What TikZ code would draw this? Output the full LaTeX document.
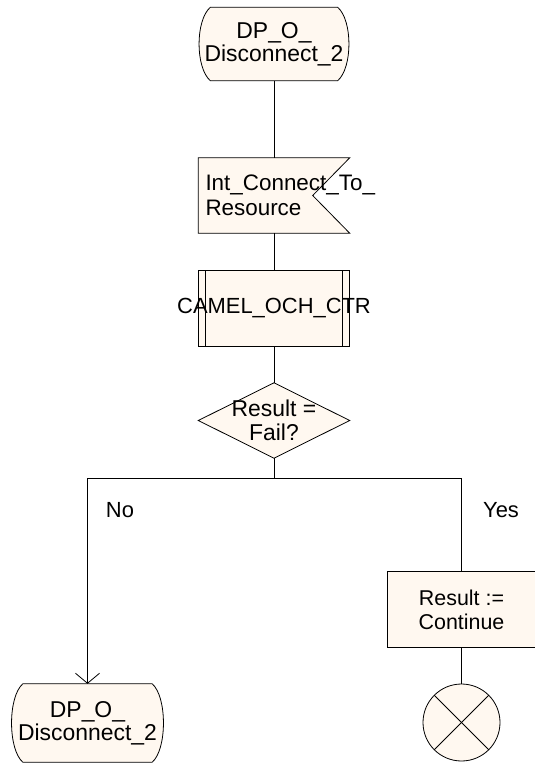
\documentclass[tikz,border=0pt]{standalone}
\usepackage{fontspec}
\setmainfont{Liberation Sans}
\usetikzlibrary{arrows.meta,backgrounds,calc}
\definecolor{sdlfill}{RGB}{255,248,240}
\begin{document}
\begin{tikzpicture}[x=1bp,y=-1bp,
  every node/.style={font=\fontsize{22}{24}\selectfont, inner sep=0pt},
  bigtext/.style={font=\fontsize{23}{23.5}\selectfont},
  line/.style={draw=black, line width=0.8bp},
  shapefill/.style={line, fill=sdlfill},
  boxnode/.style={minimum width=150bp, minimum height=75bp}]
\useasboundingbox (0,0) rectangle (535,765);

% nodes
\node[bigtext, minimum width=149bp, minimum height=73bp, align=center] (t1) at (274,44) {DP\_O\_\\Disconnect\_2};
\node[boxnode, minimum width=151bp, text width=137bp, align=left, font=\fontsize{22.5}{25}\selectfont] (inp) at (274,195.5) {Int\_Connect\_To\_\\Resource};
\node[boxnode] (proc) at (274,308.5) {\makebox[0pt]{CAMEL\_OCH\_CTR}};
\node[boxnode, bigtext, minimum width=151bp, align=center] (dec) at (274,420.5) {Result =\\Fail?};
\node[boxnode, minimum width=148bp, align=center, font=\fontsize{21.5}{24}\selectfont] (res) at (461.5,609.5) {Result :=\\Continue};
\node[circle, shapefill, minimum size=77bp] (stop) at (461.5,722.5) {};
\node[bigtext, minimum width=151bp, minimum height=78bp, align=center] (t2) at (87.5,723) {DP\_O\_\\Disconnect\_2};
\node (no) at (120,510) {No};
\node (yes) at (501,510) {Yes};
\coordinate (j) at (274,478);

% outlines
\begin{scope}[on background layer]
\foreach \n in {t1,t2}{
  \path[shapefill] ($(\n.north west)+(11,0)$) -- ($(\n.north east)+(-11,0)$)
    .. controls ($(\n.north east)+(4,13)$) and ($(\n.south east)+(4,-13)$) .. ($(\n.south east)+(-11,0)$)
    -- ($(\n.south west)+(11,0)$)
    .. controls ($(\n.south west)+(-4,-13)$) and ($(\n.north west)+(-4,13)$) .. cycle;
}
\path[shapefill] (inp.north west) -- (inp.north east) -- ($(inp.east)+(-37,0)$) -- (inp.south east) -- (inp.south west) -- cycle;
\path[shapefill] (proc.north west) rectangle (proc.south east);
\draw[line] ($(proc.north west)+(7,0)$) -- ($(proc.south west)+(7,0)$);
\draw[line] ($(proc.north east)+(-7,0)$) -- ($(proc.south east)+(-7,0)$);
\path[shapefill] (dec.north) -- (dec.east) -- (dec.south) -- (dec.west) -- cycle;
\path[shapefill] (res.north west) rectangle (res.south east);
\end{scope}

\draw[line] (stop.north west) -- (stop.south east);
\draw[line] (stop.north east) -- (stop.south west);

% connectors
\draw[line] (t1.south) -- (inp.north);
\draw[line] (inp.south) -- (proc.north);
\draw[line] (proc.south) -- (dec.north);
\draw[line] (dec.south) -- (j);
\draw[line, -{Straight Barb[length=10bp,width=24bp]}] (j) -| (t2.north);
\draw[line] (j) -| (res.north);
\draw[line] (res.south) -- (stop.north);
\end{tikzpicture}
\end{document}
